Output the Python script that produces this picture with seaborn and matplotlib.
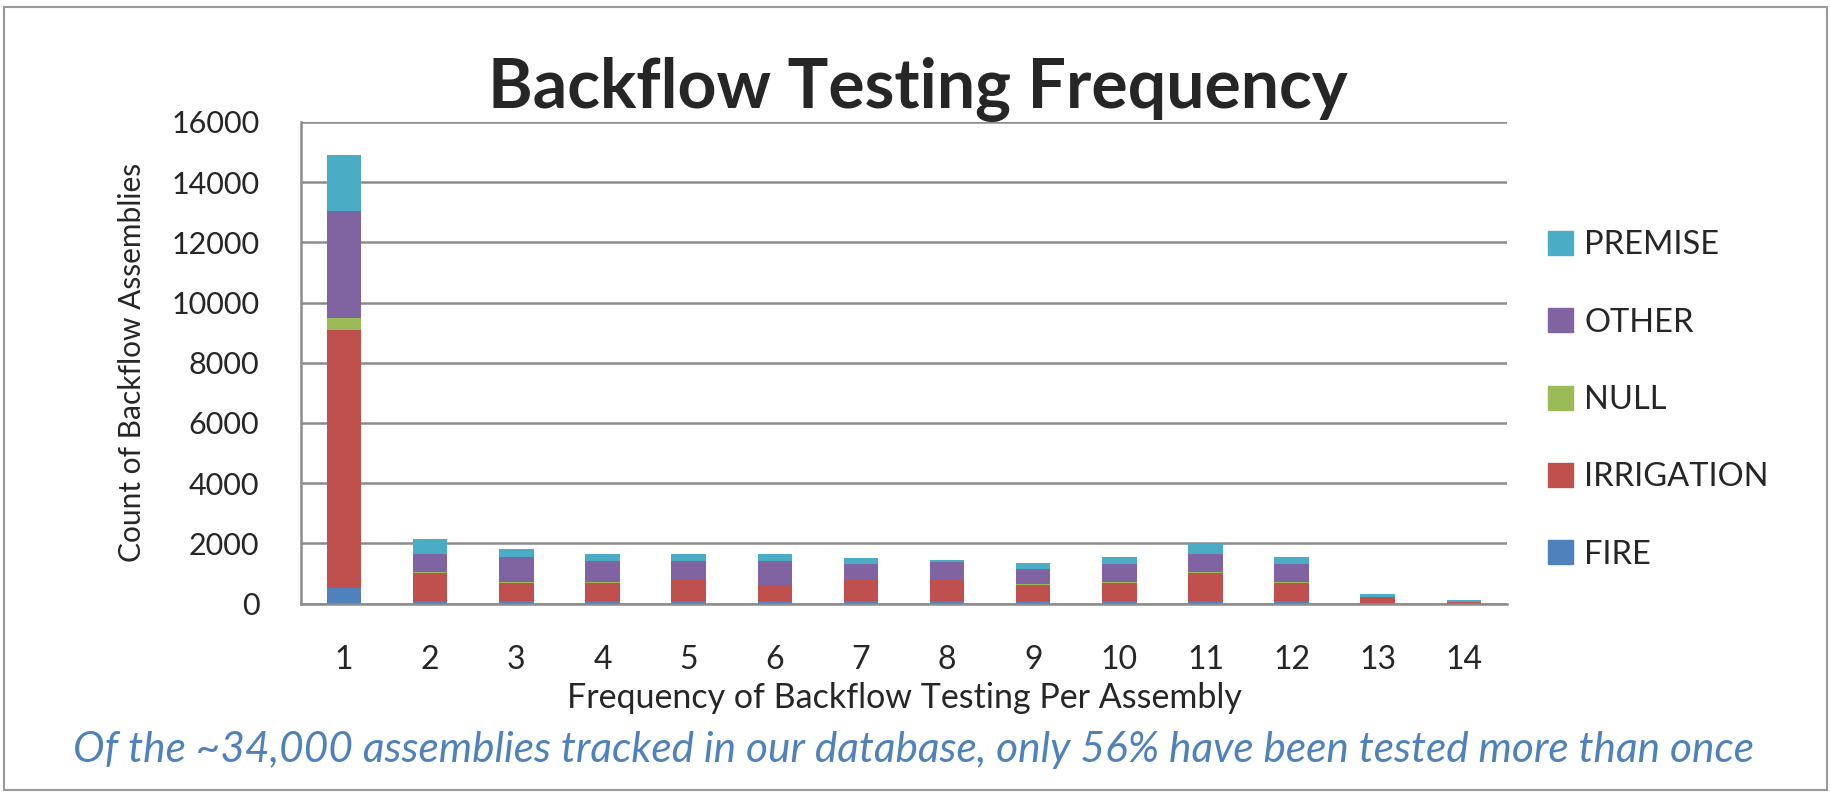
import matplotlib
matplotlib.use('Agg')
import matplotlib.pyplot as plt
import matplotlib.patches as mpatches
import numpy as np
import pandas as pd
import seaborn as sns

# data
frequency = [str(i) for i in range(1, 15)]
fire = [500, 90, 90, 90, 90, 90, 90, 90, 80, 90, 90, 90, 20, 10]
irrigation = [8580, 927, 595, 595, 717, 518, 717, 725, 540, 606, 932, 606, 200, 30]
null = [420, 15, 15, 15, 15, 15, 15, 15, 15, 15, 15, 15, 0, 0]
other = [3550, 626, 847, 714, 592, 791, 504, 550, 495, 615, 593, 615, 0, 0]
premise = [1850, 497, 276, 221, 221, 221, 199, 55, 218, 217, 348, 217, 100, 90]

series = ['FIRE', 'IRRIGATION', 'NULL', 'OTHER', 'PREMISE']
colors = {'FIRE': '#4F81BD', 'IRRIGATION': '#C0504D', 'NULL': '#9BBB59',
          'OTHER': '#8064A2', 'PREMISE': '#4BACC6'}

df = pd.DataFrame({'freq': frequency, 'FIRE': fire, 'IRRIGATION': irrigation,
                   'NULL': null, 'OTHER': other, 'PREMISE': premise})
cum = df[series].cumsum(axis=1)
cum['freq'] = df['freq']

sns.set_style('white')
plt.rcParams['font.family'] = ['Lato', 'DejaVu Sans']

fig = plt.figure(figsize=(18.31, 7.92), dpi=100)
ax = fig.add_axes([0.1644, 0.238, 0.6586, 0.608])

# stacked bars: draw running totals from the top series down
for name in reversed(series):
    sns.barplot(data=cum, x='freq', y=name, color=colors[name], width=0.4,
                saturation=1, linewidth=0, ax=ax, order=frequency)

ax.set_ylim(0, 16000)
ax.set_xlim(-0.5, 13.5)
ax.set_yticks(np.arange(0, 16001, 2000))
ax.yaxis.grid(True, color='#8c8c8c', linewidth=1.8)
ax.set_axisbelow(True)
sns.despine(ax=ax, top=True, right=True)
for side in ['left', 'bottom']:
    ax.spines[side].set_color('#8c8c8c')
    ax.spines[side].set_linewidth(1.8)

ax.tick_params(axis='y', labelsize=22, length=9, width=1.8, color='#8c8c8c', pad=21)
ax.tick_params(axis='x', which='major', labelsize=23, length=0, pad=30)
ax.set_xticks(np.arange(-0.5, 14, 1), minor=True)
ax.tick_params(axis='x', which='minor', length=11, width=2, color='#8c8c8c')

ax.set_xlabel('Frequency of Backflow Testing Per Assembly', fontsize=24.5, labelpad=5)
ax.set_ylabel('Count of Backflow Assemblies', fontsize=21.5, labelpad=18)

fig.text(0.501, 0.887, 'Backflow Testing Frequency', ha='center', va='center',
         fontsize=49, fontweight='bold')
fig.text(0.499, 0.053,
         'Of the ~34,000 assemblies tracked in our database, only 56% have been tested more than once',
         ha='center', va='center', fontsize=30.5, style='italic', color='#4F81BD')

handles = [mpatches.Patch(color=colors[n], label=n) for n in reversed(series)]
fig.legend(handles=handles, loc='center left', bbox_to_anchor=(0.8455, 0.495),
           frameon=False, fontsize=23.5, handlelength=0.75, handleheight=0.75,
           handletextpad=0.35, labelspacing=1.45, borderpad=0, borderaxespad=0)

fig.patches.append(mpatches.Rectangle((0.002, 0.003), 0.996, 0.988, transform=fig.transFigure,
                                      fill=False, edgecolor='#9a9a9a', linewidth=1.5))

fig.savefig('out.png', dpi=100)
